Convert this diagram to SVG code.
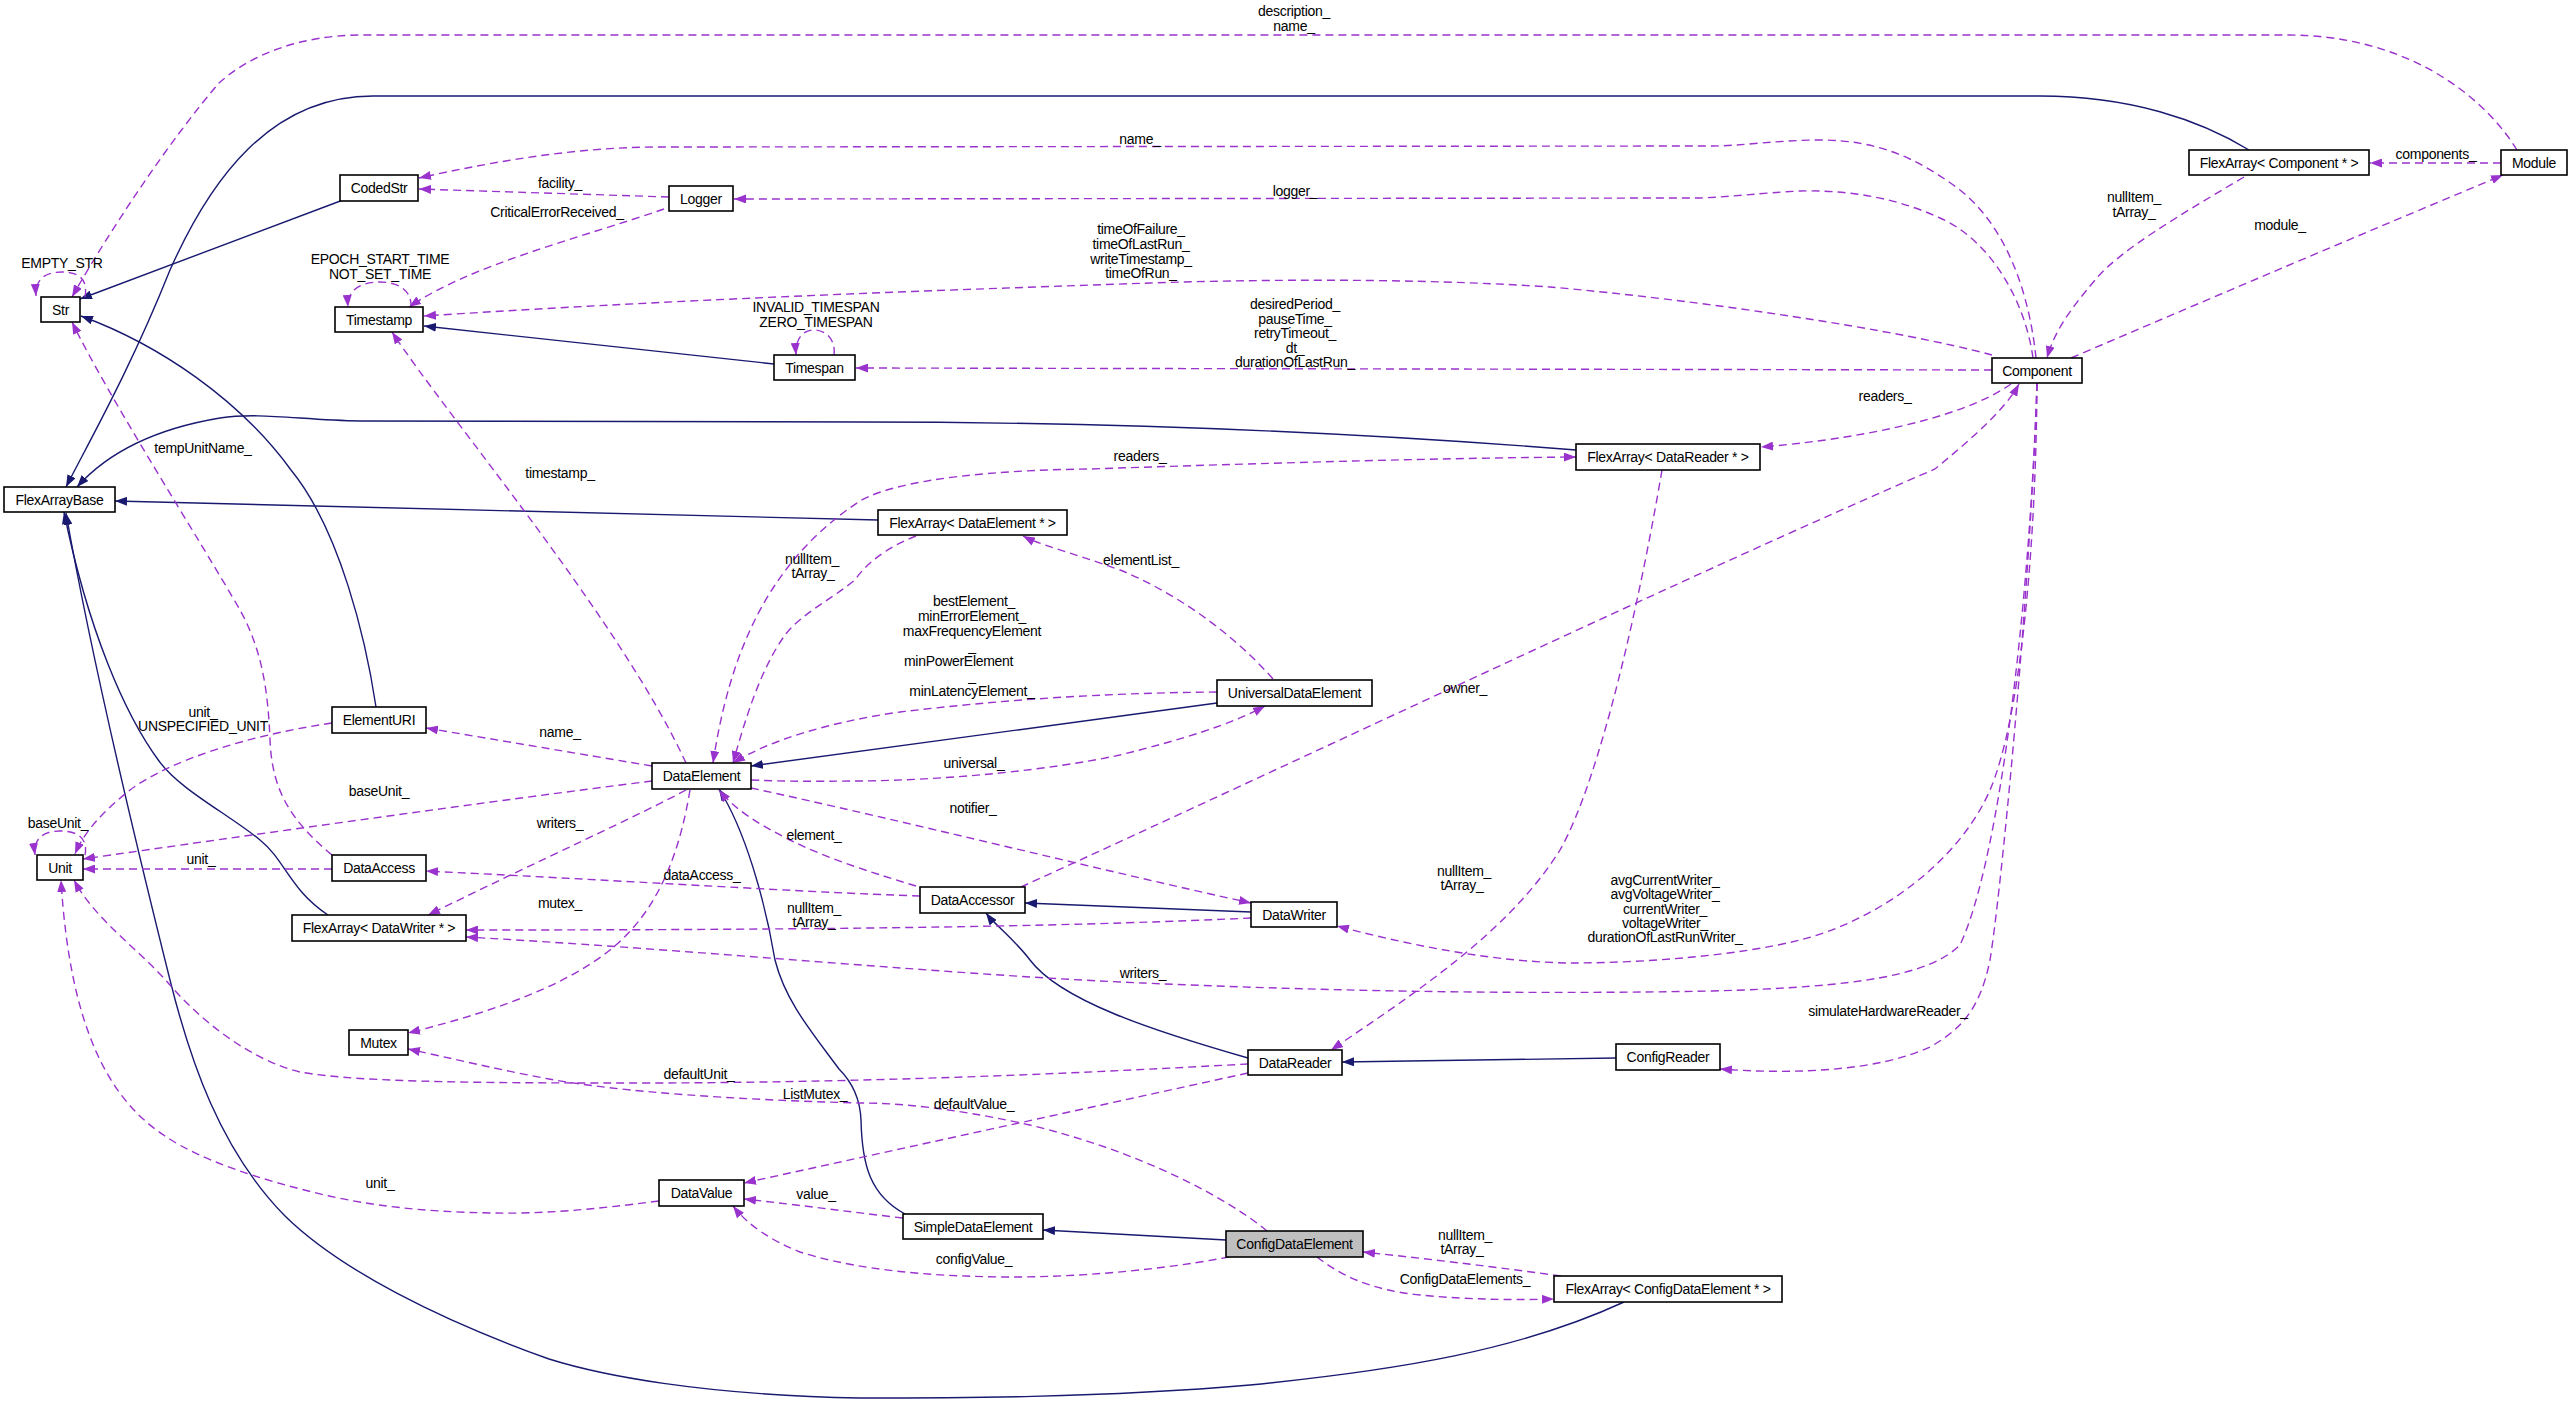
<svg xmlns="http://www.w3.org/2000/svg" width="2572" height="1406" viewBox="0 0 2572 1406">
<style>
.n rect{fill:#fff;stroke:#000;stroke-width:1.6}
.n.sel rect{fill:#bfbfbf}
text{font-family:"Liberation Sans",Arial,Helvetica,sans-serif;font-size:14px;letter-spacing:-0.3px;text-anchor:middle;fill:#000}
.inh{fill:none;stroke:#191970;stroke-width:1.4;marker-end:url(#ah)}
.use{fill:none;stroke:#9a32cd;stroke-width:1.4;stroke-dasharray:8,5;marker-end:url(#ap)}
.both{marker-start:url(#ap)}
</style>
<defs>
<marker id="ah" markerUnits="userSpaceOnUse" viewBox="0 0 12 9" markerWidth="12" markerHeight="9" refX="12" refY="4.5" orient="auto-start-reverse"><path d="M0,0 L12,4.5 L0,9 z" fill="#191970"/></marker>
<marker id="ap" markerUnits="userSpaceOnUse" viewBox="0 0 12 9" markerWidth="12" markerHeight="9" refX="12" refY="4.5" orient="auto-start-reverse"><path d="M0,0 L12,4.5 L0,9 z" fill="#9a32cd"/></marker>
</defs>
<rect width="2572" height="1406" fill="#fff"/>
<g id="edges">
<!-- inheritance -->
<path class="inh" d="M343,200 L80,299"/>
<path class="inh" d="M376,707 C366,640 340,530 291,470 C240,400 160,345 81,316"/>
<path class="inh" d="M2249,150 C2200,120 2130,96 2040,96 L373,96 C270,96 210,180 170,270 C130,370 90,440 66,487"/>
<path class="inh" d="M774,364 L424,326"/>
<path class="inh" d="M1576,450 C1350,432 1100,422 860,422 L360,421 C300,420 260,412 220,418 C160,428 110,450 77,487"/>
<path class="inh" d="M878,520 L115,501"/>
<path class="inh" d="M328,915 C290,890 285,860 260,840 C230,815 180,790 159,761 C125,715 88,630 64,512"/>
<path class="inh" d="M1624,1302 C1520,1350 1400,1370 1250,1385 C1100,1398 950,1398 860,1398 C700,1395 600,1375 549,1359 C440,1320 340,1270 285,1216 C220,1150 190,1060 170,980 C130,820 90,650 66,513"/>
<path class="inh" d="M1217,703 L751,766"/>
<path class="inh" d="M1251,912 L1025,903"/>
<path class="inh" d="M1248,1058 C1150,1030 1060,1000 1030,960 C1015,940 995,925 986,913"/>
<path class="inh" d="M905,1214 C870,1195 862,1165 861,1120 C860,1095 850,1080 839,1069 C810,1030 785,1000 775,960 C765,900 745,830 719,789"/>
<path class="inh" d="M1226,1240 L1043,1230"/>
<path class="inh" d="M1616,1058 L1342,1062"/>
<!-- usage -->
<path class="use" d="M2517,150 C2480,90 2400,35 2288,35 L362,35 C300,35 250,55 219,83 C170,140 110,230 72,297"/>
<path class="use" d="M85,297 C88,280 80,272 62,272 C44,272 35,280 36,296"/>
<path class="use" d="M2036,358 C2030,300 2010,230 1960,190 C1920,160 1880,140 1820,140 C1780,140 1740,146 1712,146 L660,147 C580,147 500,160 419,178"/>
<path class="use" d="M669,197 L419,189"/>
<path class="use" d="M664,209 C580,238 470,265 409,307"/>
<path class="use" d="M2033,358 C2025,300 1990,240 1940,218 C1890,195 1840,190 1800,191 C1760,193 1730,197 1700,198 L734,199"/>
<path class="use" d="M411,307 C412,292 400,282 380,282 C358,282 347,292 348,307"/>
<path class="use" d="M1992,355 C1900,330 1700,300 1550,287 C1450,280 1300,278 1150,283 C950,290 700,298 424,316"/>
<path class="use" d="M834,355 C836,340 826,330 814,330 C802,330 795,340 796,355"/>
<path class="use" d="M1992,370 L856,368"/>
<path class="use" d="M2501,163 L2370,163"/>
<path class="use" d="M2244,177 C2180,215 2120,250 2095,280 C2070,310 2055,330 2047,358"/>
<path class="use" d="M2071,358 Q2300,260 2503,175"/>
<path class="use" d="M2011,384 C1960,420 1850,440 1761,447"/>
<path class="use both" d="M713,763 C730,650 770,560 860,501 C900,478 1000,470 1090,469 C1300,462 1450,458 1576,457"/>
<path class="use" d="M916,536 C885,548 865,565 855,580 C830,600 800,615 785,635 C760,670 745,720 733,763"/>
<path class="use" d="M1273,679 C1230,630 1170,590 1120,570 C1070,552 1040,545 1023,536"/>
<path class="use" d="M1217,692 C1100,693 1000,700 900,712 C830,722 770,740 733,763"/>
<path class="use" d="M751,780 C800,782 830,781 860,781 C950,780 1050,770 1120,755 C1180,740 1230,725 1265,706"/>
<path class="use" d="M652,766 L426,728"/>
<path class="use" d="M686,763 C620,620 450,420 392,332"/>
<path class="use" d="M332,723 C250,735 170,760 130,790 C105,810 85,830 75,854"/>
<path class="use" d="M85,855 C88,840 80,831 60,831 C42,831 33,840 35,855"/>
<path class="use" d="M652,781 C500,800 250,835 83,859"/>
<path class="use" d="M332,869 L83,869"/>
<path class="use" d="M332,855 C290,820 272,790 270,740 C268,690 262,650 240,610 C200,540 110,400 72,322"/>
<path class="use" d="M686,790 C640,815 540,860 428,915"/>
<path class="use" d="M690,790 C680,850 660,910 610,950 C560,990 480,1015 408,1033"/>
<path class="use" d="M751,788 C900,820 1100,870 1251,903"/>
<path class="use" d="M916,886 C880,875 830,860 790,840 C760,825 735,810 719,790"/>
<path class="use" d="M920,896 C800,892 650,882 426,871"/>
<path class="use" d="M1021,887 C1300,760 1700,570 1935,469 C1970,440 2005,410 2019,384"/>
<path class="use" d="M1251,918 C1100,925 900,930 466,930"/>
<path class="use" d="M1662,470 C1640,600 1600,780 1560,850 C1510,930 1420,990 1331,1050"/>
<path class="use" d="M1248,1064 C1100,1072 900,1082 660,1083 C500,1083 360,1083 300,1072 C250,1060 200,1020 170,985 C140,950 95,920 74,880"/>
<path class="use" d="M659,1201 C590,1210 540,1214 494,1213 C420,1212 370,1205 329,1196 C260,1180 200,1160 165,1136 C110,1100 70,1030 61,880"/>
<path class="use" d="M1267,1231 C1230,1200 1140,1150 1021,1123 C950,1108 900,1103 860,1103 C740,1100 620,1092 549,1079 C500,1070 450,1058 408,1049"/>
<path class="use" d="M1248,1073 L744,1183"/>
<path class="use" d="M903,1218 C850,1212 800,1205 744,1199"/>
<path class="use" d="M1229,1257 C1150,1272 1050,1280 966,1276 C900,1274 840,1265 800,1252 C770,1240 748,1225 733,1206"/>
<path class="use" d="M1561,1276 C1480,1265 1420,1258 1363,1252"/>
<path class="use" d="M1317,1257 C1340,1275 1370,1290 1420,1295 C1470,1300 1520,1300 1554,1299"/>
<path class="use" d="M2037,383 C2036,550 2020,720 1990,790 C1960,860 1880,920 1800,940 C1740,955 1650,963 1569,963 C1500,962 1420,948 1337,926"/>
<path class="use" d="M2037,383 C2030,600 2000,860 1960,945 C1930,975 1860,987 1712,991 C1500,995 1300,990 1143,983 C950,975 700,950 466,937"/>
<path class="use" d="M2037,383 C2030,600 2000,900 1990,960 C1980,1010 1960,1030 1930,1047 C1880,1070 1800,1075 1720,1069"/>
<!-- edge labels -->
<text x="1294" y="16">description_</text>
<text x="1294" y="31">name_</text>
<text x="62" y="268">EMPTY_STR</text>
<text x="1140" y="144">name_</text>
<text x="560" y="188">facility_</text>
<text x="557" y="217">CriticalErrorReceived_</text>
<text x="1295" y="196">logger_</text>
<text x="380" y="264">EPOCH_START_TIME</text>
<text x="380" y="279">NOT_SET_TIME</text>
<text x="1141" y="234">timeOfFailure_</text>
<text x="1141" y="249">timeOfLastRun_</text>
<text x="1141" y="264">writeTimestamp_</text>
<text x="1141" y="278">timeOfRun_</text>
<text x="816" y="312">INVALID_TIMESPAN</text>
<text x="816" y="327">ZERO_TIMESPAN</text>
<text x="1295" y="309">desiredPeriod_</text>
<text x="1295" y="324">pauseTime_</text>
<text x="1295" y="338">retryTimeout_</text>
<text x="1295" y="353">dt_</text>
<text x="1295" y="367">durationOfLastRun_</text>
<text x="2436" y="159">components_</text>
<text x="2134" y="202">nullItem_</text>
<text x="2134" y="217">tArray_</text>
<text x="2280" y="230">module_</text>
<text x="1885" y="401">readers_</text>
<text x="1140" y="461">readers_</text>
<text x="812" y="564">nullItem_</text>
<text x="813" y="578">tArray_</text>
<text x="1141" y="565">elementList_</text>
<text x="974" y="606">bestElement_</text>
<text x="972" y="621">minErrorElement_</text>
<text x="972" y="636">maxFrequencyElement</text>
<text x="972" y="651">_</text>
<text x="904" y="666" style="text-anchor:start">minPowerElement</text>
<text x="972" y="681">_</text>
<text x="972" y="696">minLatencyElement_</text>
<text x="974" y="768">universal_</text>
<text x="560" y="737">name_</text>
<text x="560" y="478">timestamp_</text>
<text x="203" y="717">unit_</text>
<text x="203" y="731">UNSPECIFIED_UNIT</text>
<text x="58" y="828">baseUnit_</text>
<text x="379" y="796">baseUnit_</text>
<text x="201" y="864">unit_</text>
<text x="203" y="453">tempUnitName_</text>
<text x="560" y="828">writers_</text>
<text x="560" y="908">mutex_</text>
<text x="973" y="813">notifier_</text>
<text x="814" y="840">element_</text>
<text x="702" y="880">dataAccess_</text>
<text x="1465" y="693">owner_</text>
<text x="814" y="913">nullItem_</text>
<text x="814" y="927">tArray_</text>
<text x="1464" y="876">nullItem_</text>
<text x="1462" y="890">tArray_</text>
<text x="699" y="1079">defaultUnit_</text>
<text x="380" y="1188">unit_</text>
<text x="815" y="1099">ListMutex_</text>
<text x="974" y="1109">defaultValue_</text>
<text x="816" y="1199">value_</text>
<text x="974" y="1264">configValue_</text>
<text x="1465" y="1240">nullItem_</text>
<text x="1462" y="1254">tArray_</text>
<text x="1465" y="1284">ConfigDataElements_</text>
<text x="1665" y="885">avgCurrentWriter_</text>
<text x="1665" y="899">avgVoltageWriter_</text>
<text x="1665" y="914">currentWriter_</text>
<text x="1665" y="928">voltageWriter_</text>
<text x="1665" y="942">durationOfLastRunWriter_</text>
<text x="1143" y="978">writers_</text>
<text x="1888" y="1016">simulateHardwareReader_</text>
</g>
<g id="node-Str" class="n"><rect x="41" y="297" width="39" height="25"/><text x="60.5" y="314.5">Str</text></g>
<g id="node-CodedStr" class="n"><rect x="340" y="175" width="78" height="26"/><text x="379" y="193">CodedStr</text></g>
<g id="node-Logger" class="n"><rect x="669" y="186" width="64" height="25"/><text x="701" y="203.5">Logger</text></g>
<g id="node-Timestamp" class="n"><rect x="335" y="307" width="88" height="25"/><text x="379" y="324.5">Timestamp</text></g>
<g id="node-Timespan" class="n"><rect x="774" y="355" width="81" height="25"/><text x="814.5" y="372.5">Timespan</text></g>
<g id="node-FlexArrayBase" class="n"><rect x="4" y="487" width="111" height="25"/><text x="59.5" y="504.5">FlexArrayBase</text></g>
<g id="node-FlexArrayDataReader" class="n"><rect x="1576" y="444" width="184" height="26"/><text x="1668" y="462">FlexArray&lt; DataReader * &gt;</text></g>
<g id="node-FlexArrayComponent" class="n"><rect x="2189" y="150" width="180" height="25"/><text x="2279" y="167.5">FlexArray&lt; Component * &gt;</text></g>
<g id="node-Module" class="n"><rect x="2501" y="150" width="66" height="25"/><text x="2534" y="167.5">Module</text></g>
<g id="node-Component" class="n"><rect x="1992" y="358" width="90" height="25"/><text x="2037" y="375.5">Component</text></g>
<g id="node-ElementURI" class="n"><rect x="332" y="707" width="94" height="26"/><text x="379" y="725">ElementURI</text></g>
<g id="node-DataElement" class="n"><rect x="652" y="763" width="99" height="26"/><text x="701.5" y="781">DataElement</text></g>
<g id="node-Unit" class="n"><rect x="37" y="855" width="46" height="25"/><text x="60" y="872.5">Unit</text></g>
<g id="node-DataAccess" class="n"><rect x="332" y="855" width="94" height="26"/><text x="379" y="873">DataAccess</text></g>
<g id="node-FlexArrayDataWriter" class="n"><rect x="292" y="915" width="174" height="26"/><text x="379" y="933">FlexArray&lt; DataWriter * &gt;</text></g>
<g id="node-FlexArrayDataElement" class="n"><rect x="878" y="510" width="189" height="25"/><text x="972.5" y="527.5">FlexArray&lt; DataElement * &gt;</text></g>
<g id="node-UniversalDataElement" class="n"><rect x="1217" y="680" width="155" height="26"/><text x="1294.5" y="698">UniversalDataElement</text></g>
<g id="node-DataAccessor" class="n"><rect x="920" y="887" width="105" height="26"/><text x="972.5" y="905">DataAccessor</text></g>
<g id="node-DataWriter" class="n"><rect x="1251" y="902" width="86" height="25"/><text x="1294" y="919.5">DataWriter</text></g>
<g id="node-Mutex" class="n"><rect x="349" y="1030" width="59" height="25"/><text x="378.5" y="1047.5">Mutex</text></g>
<g id="node-DataValue" class="n"><rect x="659" y="1180" width="85" height="26"/><text x="701.5" y="1198">DataValue</text></g>
<g id="node-DataReader" class="n"><rect x="1248" y="1050" width="94" height="25"/><text x="1295" y="1067.5">DataReader</text></g>
<g id="node-ConfigReader" class="n"><rect x="1616" y="1044" width="104" height="26"/><text x="1668" y="1062">ConfigReader</text></g>
<g id="node-SimpleDataElement" class="n"><rect x="903" y="1214" width="140" height="25"/><text x="973" y="1231.5">SimpleDataElement</text></g>
<g id="node-ConfigDataElement" class="n sel"><rect x="1226" y="1231" width="137" height="26"/><text x="1294.5" y="1249">ConfigDataElement</text></g>
<g id="node-FlexArrayConfigDataElement" class="n"><rect x="1554" y="1276" width="228" height="26"/><text x="1668" y="1294">FlexArray&lt; ConfigDataElement * &gt;</text></g>
</svg>
